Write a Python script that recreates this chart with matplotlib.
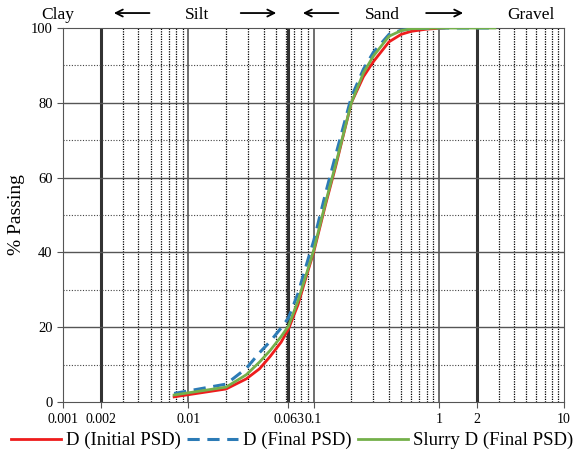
import matplotlib.pyplot as plt

plt.rcParams['font.family'] = ['Liberation Serif', 'DejaVu Serif']

# particle size (mm) and % passing
x_red = [0.0077, 0.02, 0.029, 0.037, 0.045, 0.055, 0.063, 0.075, 0.09, 0.1, 0.125, 0.15, 0.2, 0.25, 0.3, 0.4, 0.5, 0.6, 0.8, 1.1]
y_red = [1.4, 3.5, 6.2, 8.9, 12.2, 16, 19.5, 26, 35, 40, 53, 63, 80, 87, 91, 96.3, 98.3, 99.1, 99.7, 100]

x_blue = [0.0077, 0.02, 0.029, 0.037, 0.045, 0.055, 0.063, 0.075, 0.09, 0.1, 0.125, 0.15, 0.2, 0.25, 0.3, 0.4, 0.5, 0.6, 1.0, 2.8]
y_blue = [2.3, 4.8, 9, 13.2, 16.2, 19.8, 22.5, 29, 38, 43, 56, 66, 81.5, 89, 93.5, 98.3, 99.4, 99.8, 100, 100]

x_green = [0.0077, 0.02, 0.029, 0.037, 0.045, 0.055, 0.063, 0.075, 0.09, 0.1, 0.125, 0.15, 0.2, 0.25, 0.3, 0.4, 0.5, 0.6, 1.0, 2.8]
y_green = [1.9, 4.0, 7.3, 10.7, 13.8, 17.5, 20.3, 27, 35.5, 40.5, 53.5, 63.5, 80, 88, 92.5, 97.8, 99.3, 99.8, 100, 100]

xtick_vals = [0.001, 0.002, 0.01, 0.063, 0.1, 1, 2, 10]
xtick_labels = ['0.001', '0.002', '0.01', '0.063', '0.1', '1', '2', '10']
boundaries = [0.002, 0.063, 2]

fig = plt.figure(figsize=(5.84, 4.59), dpi=100)
ax = fig.add_axes([0.108, 0.124, 0.858, 0.815])
ax.set_xscale('log')
ax.set_xlim(0.001, 10)
ax.set_ylim(0, 100)

# grid lines
for dec in [0.001, 0.01, 0.1, 1]:
    for m in range(2, 10):
        v = dec * m
        if v in boundaries:
            continue
        ax.axvline(v, color='black', lw=0.9, ls=(0, (1, 1)), zorder=1)
for v in [0.01, 0.1, 1]:
    ax.axvline(v, color='#6e6e6e', lw=1.4, zorder=1)
for v in boundaries:
    ax.axvline(v, color='#333333', lw=2.2, zorder=1)
for v in [20, 40, 60, 80]:
    ax.axhline(v, color='#555555', lw=1.0, zorder=1)
for v in [10, 30, 50, 70, 90]:
    ax.axhline(v, color='#444444', lw=0.8, ls=(0, (1, 1.5)), zorder=1)

ax.plot(x_red, y_red, color='#ee1c1c', lw=2, label='D (Initial PSD)', zorder=3)
ax.plot(x_blue, y_blue, color='#2c7bb6', lw=2.2, ls=(0, (4, 2.5)), label='D (Final PSD)', zorder=4)
ax.plot(x_green, y_green, color='#74b04a', lw=2, label='Slurry D (Final PSD)', zorder=5)

ax.set_xticks(xtick_vals)
ax.set_xticklabels(xtick_labels)
ax.xaxis.set_minor_locator(plt.NullLocator())
ax.set_yticks([0, 20, 40, 60, 80, 100])
ax.tick_params(axis='x', labelsize=10, length=4, color='#555555')
ax.tick_params(axis='y', labelsize=10.5, length=4, color='#555555')
ax.set_ylabel('% Passing', fontsize=14, labelpad=4)
for s in ax.spines.values():
    s.set_color('#555555')

# soil class labels
ty = 1.035
for xf, name in [(-0.01, 'Clay'), (0.267, 'Silt'), (0.637, 'Sand'), (0.934, 'Gravel')]:
    ax.text(xf, ty, name, transform=ax.transAxes, ha='center', va='center', fontsize=12.5)
arrows = [(0.178, 0.0958), (0.349, 0.431), (0.555, 0.473), (0.719, 0.804)]
for x0, x1 in arrows:
    ax.annotate('', xy=(x1, 1.04), xytext=(x0, 1.04), xycoords='axes fraction',
                arrowprops=dict(arrowstyle='->,head_length=0.5,head_width=0.25', lw=1.3, color='black'),
                annotation_clip=False)

fig.legend(loc='lower center', bbox_to_anchor=(0.5, 0.005), ncol=3, frameon=False,
           fontsize=13.5, handlelength=2.7, columnspacing=0.35, handletextpad=0.25,
           borderaxespad=0.2, borderpad=0.2)

fig.savefig('out.png', dpi=100)
